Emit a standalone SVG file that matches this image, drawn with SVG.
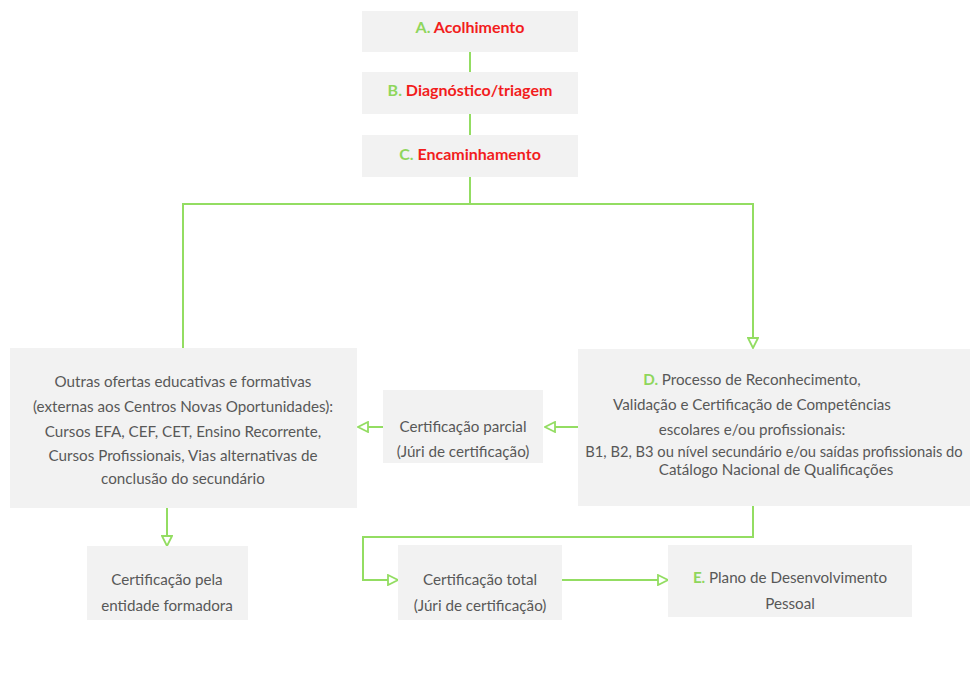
<svg xmlns="http://www.w3.org/2000/svg" width="970" height="681" viewBox="0 0 970 681">
<defs>
<style>
.box{fill:#f2f2f2}
.t{font-family:Lato,"Open Sans","Liberation Sans",sans-serif;font-size:15.2px;fill:#585858;text-anchor:middle}
.h{font-family:Lato,"Open Sans","Liberation Sans",sans-serif;font-size:16px;font-weight:bold;fill:#f21d1d;text-anchor:middle}
.g{fill:#8fd65c;font-weight:bold}
.c{fill:none;stroke:#93dd62;stroke-width:2}
</style>
<marker id="ah" viewBox="0 0 12 12" refX="11" refY="6" markerWidth="12" markerHeight="12" markerUnits="userSpaceOnUse" orient="auto">
<path d="M1,1 L11,6 L1,11 Z" fill="#fff" stroke="#93dd62" stroke-width="1.8"/>
</marker>
</defs>
<rect width="970" height="681" fill="#fff"/>
<g id="connectors">
<path class="c" d="M470,52 V72"/>
<path class="c" d="M470,114 V135"/>
<path class="c" d="M470,177 V204"/>
<path class="c" d="M183,348 V204 H753 V348" marker-end="url(#ah)"/>
<path class="c" d="M578,427 H545" marker-end="url(#ah)"/>
<path class="c" d="M383,427 H358" marker-end="url(#ah)"/>
<path class="c" d="M167,508 V546" marker-end="url(#ah)"/>
<path class="c" d="M753,506 V537 H363 V580 H398" marker-end="url(#ah)"/>
<path class="c" d="M562,580 H668" marker-end="url(#ah)"/>
</g>
<g id="nodeA">
<rect class="box" x="362" y="11" width="216" height="41"/>
<text class="h" x="470" y="33"><tspan class="g">A. </tspan>Acolhimento</text>
</g>
<g id="nodeB">
<rect class="box" x="362" y="72" width="216" height="42"/>
<text class="h" x="470" y="96"><tspan class="g">B. </tspan>Diagnóstico/triagem</text>
</g>
<g id="nodeC">
<rect class="box" x="362" y="135" width="216" height="42"/>
<text class="h" x="470" y="160"><tspan class="g">C. </tspan>Encaminhamento</text>
</g>
<g id="nodeOutras">
<rect class="box" x="10" y="348" width="347" height="160"/>
<text class="t" x="183" y="387">Outras ofertas educativas e formativas</text>
<text class="t" x="183" y="412">(externas aos Centros Novas Oportunidades):</text>
<text class="t" x="183" y="437">Cursos EFA, CEF, CET, Ensino Recorrente,</text>
<text class="t" x="183" y="461">Cursos Profissionais, Vias alternativas de</text>
<text class="t" x="183" y="484">conclusão do secundário</text>
</g>
<g id="nodeParcial">
<rect class="box" x="383" y="390" width="160" height="73"/>
<text class="t" x="463" y="432">Certificação parcial</text>
<text class="t" x="463" y="457">(Júri de certificação)</text>
</g>
<g id="nodeD">
<rect class="box" x="578" y="349" width="392" height="157"/>
<text class="t" x="752" y="385"><tspan class="g">D. </tspan>Processo de Reconhecimento,</text>
<text class="t" x="752" y="410">Validação e Certificação de Competências</text>
<text class="t" x="752" y="435">escolares e/ou profissionais:</text>
<text class="t" x="774" y="457" style="font-size:14.7px">B1, B2, B3 ou nível secundário e/ou saídas profissionais do</text>
<text class="t" x="776" y="475">Catálogo Nacional de Qualificações</text>
</g>
<g id="nodeEntidade">
<rect class="box" x="87" y="546" width="161" height="74"/>
<text class="t" x="167" y="585">Certificação pela</text>
<text class="t" x="167" y="611">entidade formadora</text>
</g>
<g id="nodeTotal">
<rect class="box" x="398" y="545" width="164" height="75"/>
<text class="t" x="480" y="585">Certificação total</text>
<text class="t" x="480" y="611">(Júri de certificação)</text>
</g>
<g id="nodeE">
<rect class="box" x="668" y="545" width="244" height="72"/>
<text class="t" x="790" y="583"><tspan class="g">E. </tspan>Plano de Desenvolvimento</text>
<text class="t" x="790" y="609">Pessoal</text>
</g>
</svg>
